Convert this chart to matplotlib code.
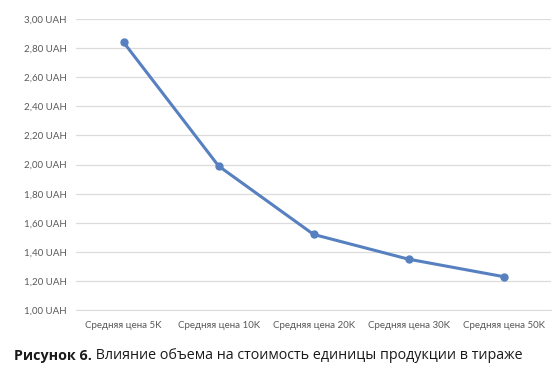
import matplotlib
matplotlib.use("Agg")
import matplotlib.pyplot as plt
from matplotlib.ticker import FuncFormatter

# данные графика
categories = ["Средняя цена 5K", "Средняя цена 10K", "Средняя цена 20K",
              "Средняя цена 30K", "Средняя цена 50K"]
prices = [2.84, 1.99, 1.52, 1.35, 1.23]
y_ticks = [1.0, 1.2, 1.4, 1.6, 1.8, 2.0, 2.2, 2.4, 2.6, 2.8, 3.0]

caption_bold = "Рисунок 6."
caption_rest = " Влияние объема на стоимость единицы продукции в тираже"

fig = plt.figure(figsize=(5.6, 3.67), dpi=100)
ax = fig.add_axes([0.136, 0.155, 0.848, 0.793])

x = range(len(categories))
ax.plot(x, prices, color="#5780C0", linewidth=2.2, marker="o", markersize=5,
        solid_capstyle="round")

ax.set_xlim(-0.5, len(categories) - 0.5)
ax.set_ylim(1.0, 3.0)
ax.set_yticks(y_ticks)
ax.yaxis.set_major_formatter(FuncFormatter(lambda v, p: f"{v:.2f}".replace(".", ",") + " UAH"))
ax.set_xticks(list(x))
ax.set_xticklabels(categories)

ax.grid(axis="y", color="#DCDCDC", linewidth=0.9)
ax.set_axisbelow(True)
for s in ax.spines.values():
    s.set_visible(False)
ax.spines["bottom"].set_visible(True)
ax.spines["bottom"].set_color("#DCDCDC")
ax.tick_params(length=0, labelsize=7, labelcolor="#595959")
for lbl in ax.get_xticklabels() + ax.get_yticklabels():
    lbl.set_family("Lato")
ax.tick_params(axis="y", pad=7)
ax.tick_params(axis="x", pad=8)

# подпись рисунка
t1 = fig.text(0.025, 0.012, caption_bold, fontsize=10.3, fontweight="bold",
              family="Open Sans", color="#1a1a1a", va="bottom")
ax.annotate(caption_rest, xy=(1, 0), xycoords=t1, va="bottom", ha="left",
            fontsize=10.3, family="Open Sans", color="#1a1a1a",
            annotation_clip=False)

fig.savefig("out.png", dpi=100)
